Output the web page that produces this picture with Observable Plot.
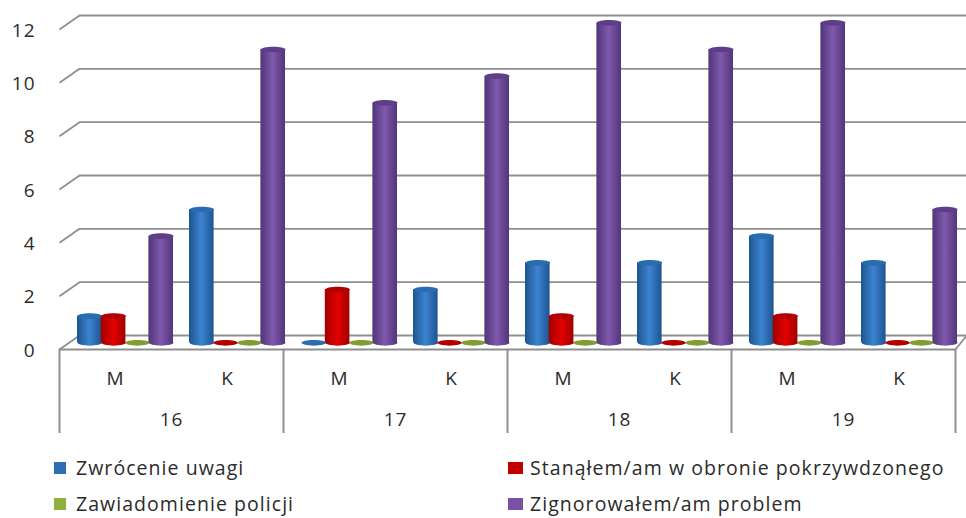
<!DOCTYPE html>
<html lang="pl">
<head>
<meta charset="utf-8">
<script src="https://cdn.jsdelivr.net/npm/d3@7"></script>
<script src="https://cdn.jsdelivr.net/npm/@observablehq/plot@0.6"></script>
<style>
  html, body { margin: 0; padding: 0; background: #fff; }
  #wrap { width: 966px; height: 518px; position: relative; overflow: hidden; font-family: "Open Sans", sans-serif; color: #2b2b2b; }
  #chart svg { display: block; overflow: visible; }
  #chart text { letter-spacing: 1px; }
  #legend { display: grid; grid-template-columns: 454px auto; grid-auto-rows: 36px; padding-left: 54px; margin-top: 10px; font-size: 19.5px; line-height: 26px; letter-spacing: 1.05px; white-space: nowrap; }
  #legend span.item { display: flex; align-items: center; height: 26px; }
  #legend i { display: inline-block; width: 12px; height: 12px; margin-right: 10px; }
  #legend .second i { width: 15px; margin-right: 7px; }
</style>
</head>
<body>
<div id="wrap">
  <div id="chart"></div>
  <div id="legend"></div>
</div>
<script>
const groups = ["16", "17", "18", "19"];
const sexes = ["M", "K"];
const seriesNames = ["Zwrócenie uwagi", "Stanąłem/am w obronie pokrzywdzonego", "Zawiadomienie policji", "Zignorowałem/am problem"];
const zwrocenie = [1, 5, 0, 2, 3, 3, 4, 3];
const stanalem = [1, 0, 2, 0, 1, 0, 1, 0];
const zawiadomienie = [0, 0, 0, 0, 0, 0, 0, 0];
const zignorowalem = [4, 11, 9, 10, 12, 11, 12, 5];
const yTicks = [0, 2, 4, 6, 8, 10, 12];
const palette = [
  {id: "cBlue", edge: "#1d5490", mid: "#3c84d0", top: "#2a6cb2", key: "#2e6db4"},
  {id: "cRed", edge: "#a00000", mid: "#e40000", top: "#b00000", key: "#c00000"},
  {id: "cGreen", edge: "#7c9a32", mid: "#98b84a", top: "#7f9e36", key: "#8fb03c"},
  {id: "cPurple", edge: "#50367a", mid: "#8059ac", top: "#5c3f86", key: "#7a50a5"}
];

const values = [zwrocenie, stanalem, zawiadomienie, zignorowalem];
const catWidthPx = 112, barPx = 23.8, barDrawPx = 24.6, leadPx = 18;
const bars = [];
values.forEach((vals, s) => vals.forEach((v, c) => {
  const x1 = c + (leadPx + s * barPx) / catWidthPx;
  bars.push({s, c, v, x1, x2: x1 + barDrawPx / catWidthPx, xc: x1 + barDrawPx / 2 / catWidthPx});
}));

// depth of the 3D box, in value units
const floorDepth = 0.25, wallDepth = 0.525;

const ellipse = {
  draw(ctx, size) {
    const rx = Math.sqrt(size / Math.PI), ry = 2.8, k = 0.5523;
    ctx.moveTo(-rx, 0);
    ctx.bezierCurveTo(-rx, -k * ry, -k * rx, -ry, 0, -ry);
    ctx.bezierCurveTo(k * rx, -ry, rx, -k * ry, rx, 0);
    ctx.bezierCurveTo(rx, k * ry, k * rx, ry, 0, ry);
    ctx.bezierCurveTo(-k * rx, ry, -rx, k * ry, -rx, 0);
    ctx.closePath();
  }
};

function gradients() {
  const ns = "http://www.w3.org/2000/svg";
  const defs = document.createElementNS(ns, "defs");
  for (const p of palette) {
    const g = document.createElementNS(ns, "linearGradient");
    g.setAttribute("id", p.id);
    [[0, p.edge], [0.5, p.mid], [1, p.edge]].forEach(([o, col]) => {
      const st = document.createElementNS(ns, "stop");
      st.setAttribute("offset", o);
      st.setAttribute("stop-color", col);
      g.appendChild(st);
    });
    defs.appendChild(g);
  }
  return defs;
}

const gridColor = "#8e8e8e";
const cylinderMarks = [];
palette.forEach((p, s) => {
  const d = bars.filter(b => b.s === s);
  const up = d.filter(b => b.v > 0);
  cylinderMarks.push(
    Plot.dot(up, {x: "xc", y: () => floorDepth, r: 12.3, symbol: ellipse, fill: `url(#${p.id})`}),
    Plot.rectY(up, {x1: "x1", x2: "x2", y1: () => floorDepth, y2: b => b.v + floorDepth, fill: `url(#${p.id})`}),
    Plot.dot(d, {x: "xc", y: b => b.v + floorDepth, r: 12.3, symbol: ellipse, fill: p.top})
  );
});

const chart = Plot.plot({
  width: 966,
  height: 445,
  marginLeft: 59,
  marginRight: 11,
  marginTop: 29,
  marginBottom: 96,
  style: {background: "#fff", fontFamily: "'Open Sans', sans-serif", color: "#2b2b2b", overflow: "visible"},
  x: {type: "linear", domain: [0, 8], range: [59, 955], axis: null},
  y: {domain: [0, 12], range: [349, 29], axis: null},
  marks: [
    gradients,
    // back wall grid lines and their slanted side-wall stubs
    Plot.ruleY(yTicks, {y: t => t + wallDepth, x1: 20 / catWidthPx, x2: 8.1, stroke: gridColor, strokeWidth: 1.8}),
    Plot.link(yTicks, {x1: 0, x2: 20 / catWidthPx, y1: t => t, y2: t => t + wallDepth, stroke: gridColor, strokeWidth: 1.8}),
    // front floor edge and right floor edge
    Plot.ruleY([0], {x1: 0, x2: 8, stroke: gridColor, strokeWidth: 2}),
    Plot.link([0], {x1: 8, x2: 8.1, y1: 0, y2: wallDepth, stroke: gridColor, strokeWidth: 1.8}),
    // group separators
    Plot.ruleX(groups.map((g, i) => i * 2).concat(8), {y1: 0, y2: -3.15, stroke: gridColor, strokeWidth: 2}),
    ...cylinderMarks,
    Plot.axisY(yTicks, {
      anchor: "left", tickSize: 0, tickPadding: 24, fontSize: 19, label: null, textAnchor: "end", fill: "#2b2b2b", dy: 1
    }),
    Plot.axisX(d3.range(8).map(i => i + 0.5), {
      anchor: "bottom", tickSize: 0, tickPadding: 22, fontSize: 19, label: null,
      tickFormat: t => sexes[Math.floor(t) % 2], fill: "#2b2b2b"
    }),
    Plot.axisX(groups.map((g, i) => i * 2 + 1), {
      anchor: "bottom", tickSize: 0, tickPadding: 63, fontSize: 19, label: null,
      tickFormat: t => groups[(t - 1) / 2], fill: "#2b2b2b"
    })
  ]
});
document.getElementById("chart").appendChild(chart);

const legend = document.getElementById("legend");
seriesNames.forEach((name, i) => {
  const item = document.createElement("span");
  item.className = "item" + (i % 2 ? " second" : "");
  const key = document.createElement("i");
  key.style.background = palette[i].key;
  item.appendChild(key);
  item.appendChild(document.createTextNode(name));
  legend.appendChild(item);
});
</script>
</body>
</html>
